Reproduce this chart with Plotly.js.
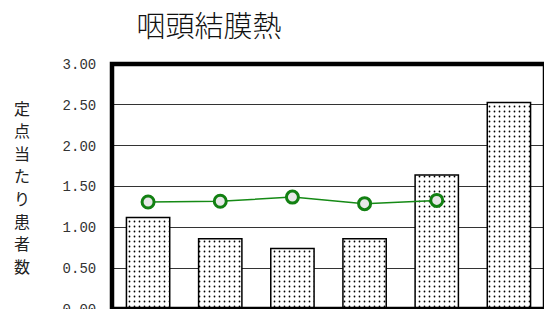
<!DOCTYPE html>
<html>
<head>
<meta charset="utf-8">
<script src="https://cdn.plot.ly/plotly-3.0.1.min.js"></script>
<style>html,body{margin:0;padding:0;overflow:hidden;background:#fff;width:544px;height:309px;}</style>
</head>
<body>
<div id="chart"></div>
<script>
// Data
const categories = ['1', '2', '3', '4', '5', '6'];
const barValues = [1.12, 0.86, 0.74, 0.86, 1.64, 2.53];
const lineCategories = ['1', '2', '3', '4', '5'];
const lineValues = [1.31, 1.32, 1.37, 1.29, 1.33];
const yTickVals = [0, 0.5, 1, 1.5, 2, 2.5, 3];
const yTickText = ['0.00', '0.50', '1.00', '1.50', '2.00', '2.50', '3.00'];
const chartTitle = '咽頭結膜熱';
const yTitle = '定点当たり患者数';

const W = 550, H = 340;
const ML = 112, MR = 5, MT = 64, MB = 31;
const PW = W - ML - MR, PH = H - MT - MB;

const traces = [
  {
    type: 'bar',
    x: categories,
    y: barValues,
    width: 0.6,
    marker: {
      color: '#ffffff',
      line: {color: '#000000', width: 1.5},
      pattern: {shape: '.', fgcolor: '#000000', bgcolor: '#ffffff', size: 5, solidity: 0.1, fillmode: 'replace'}
    },
    hoverinfo: 'none'
  },
  {
    type: 'scatter',
    mode: 'lines+markers',
    x: lineCategories,
    y: lineValues,
    line: {color: '#158a15', width: 1.5},
    marker: {symbol: 'circle', size: 12, color: '#e8e8e8', line: {color: '#128012', width: 3}},
    hoverinfo: 'none'
  }
];

const annotations = [];
const chars = Array.from(yTitle);
const topC = 107.5, step = 22.6, cx = 22;
chars.forEach((c, i) => {
  annotations.push({
    text: c,
    xref: 'paper', yref: 'paper',
    x: (cx - ML) / PW,
    y: (MT + PH - (topC + i * step)) / PH,
    xanchor: 'center', yanchor: 'middle',
    showarrow: false,
    font: {family: 'Noto Sans CJK JP', size: 16, color: '#222'}
  });
});

const layout = {
  width: W, height: H,
  margin: {l: ML, r: MR, t: MT, b: MB, pad: 0},
  paper_bgcolor: '#ffffff',
  plot_bgcolor: '#ffffff',
  showlegend: false,
  title: {
    text: chartTitle,
    xref: 'container', yref: 'container',
    x: 209 / W, y: 1 - 27 / H,
    xanchor: 'center', yanchor: 'middle',
    font: {family: 'Noto Sans CJK JP', size: 29, color: '#111', weight: 300}
  },
  xaxis: {
    type: 'category',
    range: [-0.5, 5.5],
    showticklabels: false,
    showgrid: false,
    zeroline: false,
    showline: false,
    ticks: ''
  },
  yaxis: {
    range: [0, 3],
    tickmode: 'array',
    tickvals: yTickVals,
    ticktext: yTickText,
    ticks: 'outside',
    ticklen: 12,
    tickcolor: 'rgba(0,0,0,0)',
    tickfont: {family: 'Liberation Mono', size: 14, color: '#333'},
    showgrid: true,
    gridcolor: '#333333',
    gridwidth: 1,
    zeroline: false,
    showline: false
  },
  shapes: [
    {type: 'rect', xref: 'paper', yref: 'paper', x0: 0, x1: 1, y0: 0, y1: 1,
     line: {color: '#000000', width: 4.5}, layer: 'above'}
  ],
  annotations: annotations
};

Plotly.newPlot('chart', traces, layout, {staticPlot: true, displayModeBar: false});
</script>
</body>
</html>
